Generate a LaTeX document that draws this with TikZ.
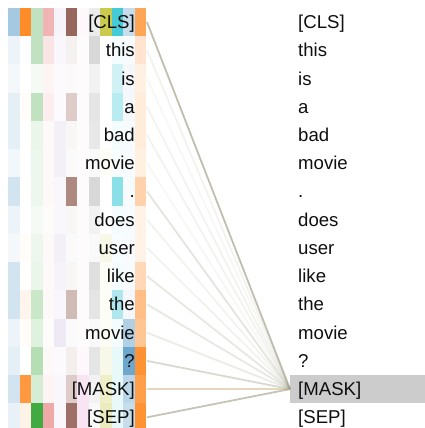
\documentclass[tikz,border=0pt]{standalone}
\usepackage{fontspec}
\setmainfont{Liberation Sans}
\definecolor{hc0}{HTML}{1F77B4}
\definecolor{hc1}{HTML}{FF7F0E}
\definecolor{hc2}{HTML}{2CA02C}
\definecolor{hc3}{HTML}{D62728}
\definecolor{hc4}{HTML}{9467BD}
\definecolor{hc5}{HTML}{8C564B}
\definecolor{hc6}{HTML}{E377C2}
\definecolor{hc7}{HTML}{7F7F7F}
\definecolor{hc8}{HTML}{BCBD22}
\definecolor{hc9}{HTML}{17BECF}
\definecolor{hc10}{HTML}{1F77B4}
\definecolor{hc11}{HTML}{FF7F0E}
\definecolor{lineg}{RGB}{150,147,122}
\definecolor{lineb}{RGB}{218,196,160}
\definecolor{maskgray}{RGB}{204,204,204}
\definecolor{tokc}{RGB}{15,15,15}
\tikzset{
  tok/.style={inner xsep=0pt, inner ysep=0pt, text height=14pt, text depth=1pt,
    font=\fontsize{18.6}{20}\selectfont, text=tokc},
  ltok/.style={tok, anchor=east},
  rtok/.style={tok, anchor=west, inner xsep=8pt},
  rmask/.style={rtok, fill=maskgray, minimum width=135pt, minimum height=28.23pt,
    text width=119pt, align=left},
  att/.style={line width=1.8pt}
}
\begin{document}
\begin{tikzpicture}[x=1pt,y=-1pt]
\useasboundingbox (0,0) rectangle (425,428);
\clip (0,0) rectangle (425,428);
% attention cells
\foreach \row [count=\i from 0] in {
 {40,90,30,35,8,90,5,15,80,80,25,70},
 {8,0,30,12,5,8,3,30,0,5,3,20},
 {5,0,5,5,3,3,3,10,0,20,5,12},
 {12,2,30,8,3,30,3,20,0,30,5,15},
 {12,0,10,3,10,5,3,18,0,5,3,15},
 {6,0,8,3,10,3,3,5,3,3,3,12},
 {20,0,8,3,5,70,3,30,0,50,3,35},
 {8,0,5,2,5,5,3,10,0,5,3,10},
 {5,2,8,3,10,3,3,5,10,3,3,10},
 {20,0,10,3,8,5,3,25,3,5,3,30},
 {20,8,25,3,5,40,3,20,3,35,5,50},
 {8,2,15,2,15,3,3,5,3,5,35,45},
 {12,0,35,3,3,10,5,20,10,10,65,85},
 {20,80,20,5,5,30,20,10,25,10,30,75},
 {10,10,90,40,5,85,20,5,30,10,25,85}}{
  \foreach \v [count=\j from 0] in \row {
    \fill[hc\j!\v!white] ({8+11.5*\j},{8+28.23*\i}) rectangle ++(11.7,28.43);
  }
}
% left tokens
\foreach \t [count=\i from 0] in {{[CLS]},this,is,a,bad,movie,.,does,user,like,the,movie,?,{[MASK]},{[SEP]}}{
  \node[ltok] (L\i) at (135,{22.1+28.23*\i}) {\t};
  \coordinate (s\i) at (147,{22.1+28.23*\i});
}
% right tokens
\foreach \t/\s [count=\i from 0] in {{[CLS]}/rtok,this/rtok,is/rtok,a/rtok,bad/rtok,movie/rtok,./rtok,does/rtok,user/rtok,like/rtok,the/rtok,movie/rtok,?/rtok,{[MASK]}/rmask,{[SEP]}/rtok}{
  \node[\s] (R\i) at (290,{22.1+28.23*\i}) {\t};
}
% attention lines
\foreach \i/\o/\c in {0/0.6/lineg,1/0.12/lineg,2/0.08/lineg,3/0.12/lineg,4/0.12/lineg,5/0.08/lineg,6/0.25/lineg,7/0.12/lineg,8/0.12/lineg,9/0.22/lineg,10/0.22/lineg,11/0.18/lineg,12/0.35/lineg,13/0.7/lineb,14/0.55/lineg}{
  \draw[att, draw=\c, draw opacity=\o] (s\i) -- (R13.west);
}
\end{tikzpicture}
\end{document}
